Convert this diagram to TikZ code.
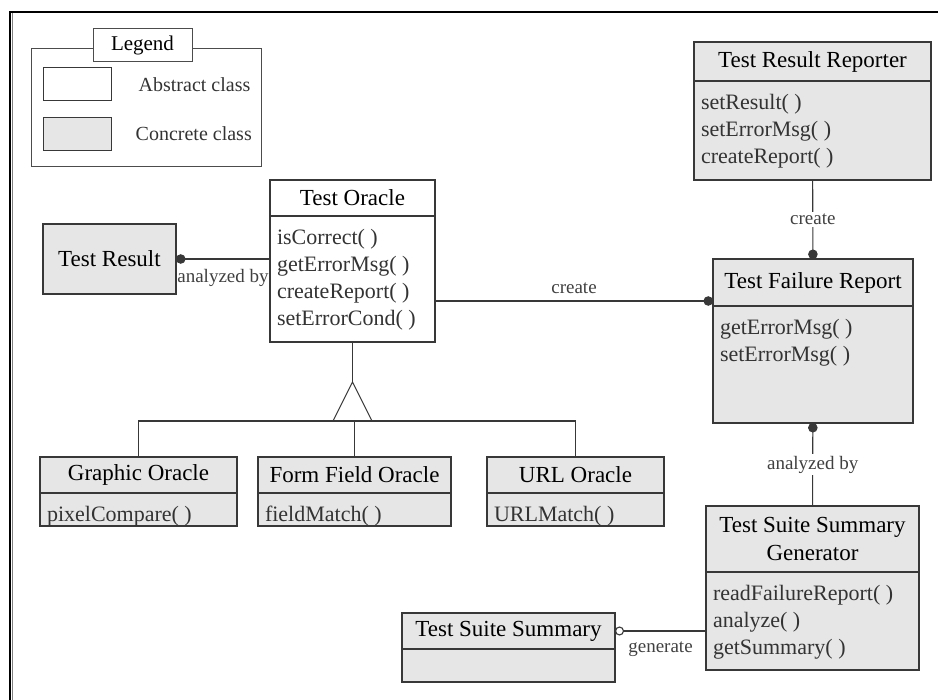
\documentclass[tikz,border=0pt]{standalone}
\usepackage{fontspec}
\setmainfont{Liberation Serif}
\newfontfamily\umlfont{Liberation Serif}
\usetikzlibrary{arrows.meta,positioning}
\definecolor{concrete}{HTML}{E6E6E6}
\definecolor{edge}{HTML}{383838}
\newcommand{\methods}[3]{\parbox[c][#2pt][t]{#1pt}{\raggedright\leftskip=7pt\vspace*{10pt}\strut#3}}

\begin{document}
\begin{tikzpicture}[x=1pt,y=-1pt,
  classhead/.style={draw=edge,line width=1.1pt,fill=concrete,inner sep=0pt,outer sep=0pt,align=center,font=\umlfont\fontsize{23}{28}\selectfont},
  abstract/.style={fill=white},
  ops/.style={draw=edge,line width=1.1pt,fill=concrete,inner sep=0pt,outer sep=0pt,text=black!80,font=\umlfont\fontsize{22}{27}\selectfont},
  lbl/.style={font=\umlfont\fontsize{19}{21}\selectfont,text=black!75,inner sep=2pt},
  conn/.style={draw=edge,line width=1.1pt},
  dotend/.style={-{Circle[length=9.5pt]}},
  odotend/.style={-{Circle[open,length=9pt]}},
  legbox/.style={draw=black!70,line width=1pt,inner sep=0pt},
  legtext/.style={font=\umlfont\fontsize{20}{22}\selectfont,text=black!80,inner sep=0pt}]
  \useasboundingbox (0,0) rectangle (938,700);
  % frame
  \draw[line width=2.5pt] (10,700) -- (10,12) -- (938,12);
  \draw[gray,line width=0.8pt] (12.8,13.5) -- (12.8,700);
  % legend
  \node[legbox,minimum width=230pt,minimum height=118pt] (legend) at (146,108) {};
  \node[legbox,fill=white,minimum width=99pt,minimum height=33pt,font=\umlfont\fontsize{21}{23}\selectfont] (legend-title) at (142.5,45.5) {Legend};
  \node[legbox,draw=edge,minimum width=68pt,minimum height=33pt] (abs-sample) at (77,84.5) {};
  \node[legbox,draw=edge,fill=concrete,minimum width=68pt,minimum height=33pt] (conc-sample) at (77,134) {};
  \node[legtext,right=27pt of abs-sample] (abs-text) {Abstract class};
  \node[legtext,right=24pt of conc-sample] (conc-text) {Concrete class};
  % classes
  \node[classhead,abstract,minimum width=165pt,minimum height=36pt] (oracle) at (352.5,198) {Test Oracle};
  \node[ops,abstract,below=0pt of oracle] (oracle-m) {\methods{165}{126}{isCorrect( )\\getErrorMsg( )\\createReport( )\\setErrorCond( )}};
  \node[classhead,minimum width=133pt,minimum height=70pt] (result) at (109.5,259) {Test Result};
  \node[classhead,minimum width=237pt,minimum height=39pt] (reporter) at (812.5,61.5) {Test Result Reporter};
  \node[ops,below=0pt of reporter] (reporter-m) {\methods{237}{99}{setResult( )\\setErrorMsg( )\\createReport( )}};
  \node[classhead,minimum width=200pt,minimum height=47pt] (failure) at (813,282.5) {Test Failure Report};
  \node[ops,below=0pt of failure] (failure-m) {\methods{200}{117}{getErrorMsg( )\\setErrorMsg( )}};
  \node[classhead,minimum width=213pt,minimum height=66pt] (generator) at (812.5,539) {Test Suite Summary\\Generator};
  \node[ops,below=0pt of generator] (generator-m) {\methods{213}{98}{readFailureReport( )\\analyze( )\\getSummary( )}};
  \node[classhead,minimum width=213pt,minimum height=36pt] (summary) at (508.5,631) {Test Suite Summary};
  \node[ops,below=0pt of summary] (summary-m) {\methods{213}{33}{}};
  \node[classhead,minimum width=197pt,minimum height=36pt] (graphic) at (138.5,475) {Graphic Oracle};
  \node[ops,below=0pt of graphic] (graphic-m) {\methods{197}{33}{pixelCompare( )}};
  \node[classhead,minimum width=193pt,minimum height=36pt] (field) at (354.5,475) {Form Field Oracle};
  \node[ops,below=0pt of field] (field-m) {\methods{193}{33}{fieldMatch( )}};
  \node[classhead,minimum width=177pt,minimum height=36pt] (url) at (575.5,475) {URL Oracle};
  \node[ops,below=0pt of url] (url-m) {\methods{177}{33}{URLMatch( )}};
  % generalization
  \coordinate (tip) at (352.5,382);
  \coordinate (base) at (352.5,421);
  \draw[conn] (oracle-m) -- (tip);
  \draw[conn] (tip) -- ++(19.5,39) -- ++(-39,0) -- cycle;
  \draw[conn] (graphic) |- (base) -| (url);
  \draw[conn] (base -| field) -- (field);
  % associations
  \coordinate (create-start) at ([yshift=-22pt]oracle-m.east);
  \draw[conn,dotend] (oracle-m.west |- result) -- (result) node[lbl,midway,below=8pt] {analyzed by};
  \draw[conn,dotend] (create-start) -- (create-start -| failure.west) node[lbl,midway,above=5pt] {create};
  \draw[conn,dotend] (reporter-m) -- (failure) node[lbl,midway,fill=white] {create};
  \draw[conn,dotend] (generator) -- (failure-m) node[lbl,midway,fill=white] {analyzed by};
  \draw[conn,odotend] (generator-m.west |- summary) -- (summary) node[lbl,midway,below=8pt] {generate};
\end{tikzpicture}
\end{document}
